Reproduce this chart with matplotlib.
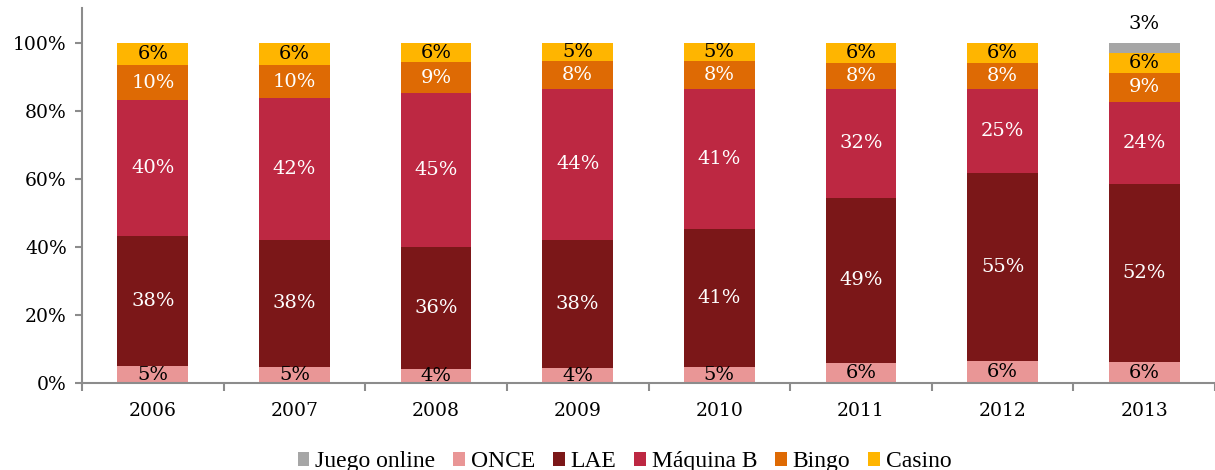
import numpy as np
import matplotlib.pyplot as plt
from matplotlib.ticker import FixedLocator, FuncFormatter

years = ["2006", "2007", "2008", "2009", "2010", "2011", "2012", "2013"]
series_names = ["Juego online", "ONCE", "LAE", "Máquina B", "Bingo", "Casino"]

# shares of total gaming (%), stacked bottom-up: ONCE, LAE, Máquina B, Bingo, Casino, Juego online
once = [5.0, 4.6, 4.1, 4.4, 4.7, 5.9, 6.4, 6.2]
lae = [38.2, 37.6, 35.9, 37.7, 40.6, 48.6, 55.4, 52.4]
maquina_b = [40.0, 41.6, 45.3, 44.4, 41.2, 32.1, 24.7, 24.1]
bingo = [10.3, 9.7, 9.1, 8.2, 8.2, 7.6, 7.6, 8.6]
casino = [6.4, 6.4, 5.6, 5.3, 5.3, 5.8, 5.9, 5.8]
juego_online = [0.0, 0.0, 0.0, 0.0, 0.0, 0.0, 0.0, 2.9]

colors = {
    "Juego online": "#a6a6a6",
    "ONCE": "#e99696",
    "LAE": "#7b1718",
    "Máquina B": "#bd2842",
    "Bingo": "#de6a04",
    "Casino": "#ffb500",
}
label_colors = {
    "ONCE": "black",
    "LAE": "white",
    "Máquina B": "white",
    "Bingo": "white",
    "Casino": "black",
}

num_font = "DejaVu Serif"
axis_grey = "#8c8c8c"

fig = plt.figure(figsize=(12.15, 4.7), dpi=100)
ax = fig.add_axes([0.0675, 0.185, 0.9325, 0.798])

x = np.arange(len(years))
width = 0.5
stack = [
    ("ONCE", once),
    ("LAE", lae),
    ("Máquina B", maquina_b),
    ("Bingo", bingo),
    ("Casino", casino),
    ("Juego online", juego_online),
]
bottom = np.zeros(len(years))
handles = {}
for name, vals in stack:
    vals = np.array(vals)
    bars = ax.bar(x, vals, width, bottom=bottom, color=colors[name],
                  linewidth=0, label=name)
    handles[name] = bars
    if name in label_colors:
        for xi, b, v in zip(x, bottom, vals):
            if v > 0:
                ax.text(xi, b + v / 2, f"{v:.0f}%", ha="center", va="center",
                        fontsize=14, family=num_font, color=label_colors[name])
    bottom = bottom + vals

# online gaming only appears in the last year, so its label sits above the bar
for xi, b, v in zip(x, bottom, juego_online):
    if v > 0:
        ax.text(xi, b + 3.0, f"{v:.0f}%", ha="center", va="bottom",
                fontsize=14, family=num_font, color="black")

ax.set_xlim(-0.5, len(years) - 0.5)
ax.set_ylim(0, 110.3)
ax.set_yticks(np.arange(0, 101, 20))
ax.yaxis.set_major_formatter(FuncFormatter(lambda v, _: f"{v:.0f}%"))
ax.set_xticks(x)
ax.set_xticklabels(years)
ax.xaxis.set_minor_locator(FixedLocator(np.arange(-0.5, len(years), 1.0)))

for side in ("top", "right"):
    ax.spines[side].set_visible(False)
for side in ("left", "bottom"):
    ax.spines[side].set_color(axis_grey)
    ax.spines[side].set_linewidth(1.5)

ax.tick_params(axis="x", which="major", length=0, pad=14)
ax.tick_params(axis="x", which="minor", length=6, width=1.5, color=axis_grey)
ax.tick_params(axis="y", length=5, width=1.5, color=axis_grey, pad=6)
for lab in ax.get_xticklabels() + ax.get_yticklabels():
    lab.set_family(num_font)
    lab.set_fontsize(13.5)

leg = fig.legend([handles[n] for n in series_names], series_names,
                 loc="lower center", bbox_to_anchor=(0.514, -0.05), ncol=6,
                 frameon=False, handlelength=0.5, handleheight=0.5,
                 handletextpad=0.25, columnspacing=0.75,
                 prop={"family": "Liberation Serif", "size": 17})

fig.savefig("out.png", dpi=100)
